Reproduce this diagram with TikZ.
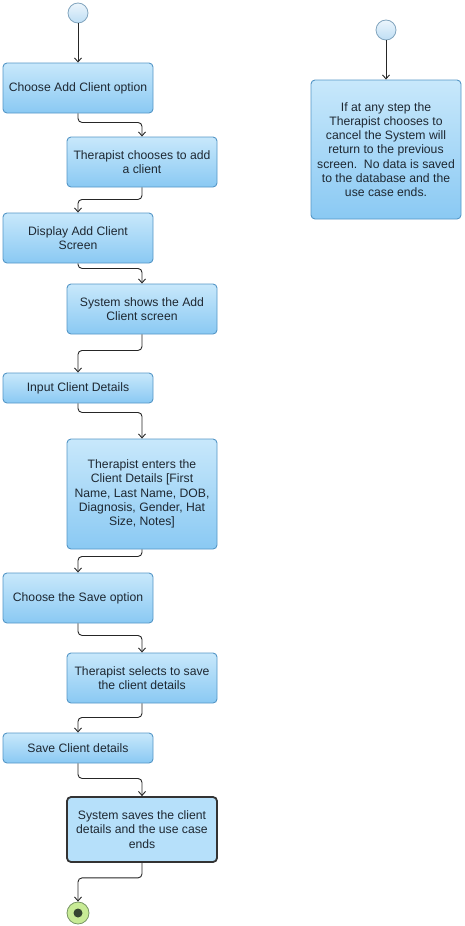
\documentclass[tikz,border=0pt]{standalone}
\usepackage{fontspec}
\setmainfont{Liberation Sans}
\usetikzlibrary{arrows.meta,calc}
\definecolor{acttop}{RGB}{200,232,251}
\definecolor{actbot}{RGB}{138,201,243}
\definecolor{actline}{RGB}{84,150,198}
\definecolor{acttext}{RGB}{30,40,50}
\definecolor{lastfill}{RGB}{182,224,250}
\definecolor{dottop}{RGB}{236,245,252}
\definecolor{dotbot}{RGB}{190,222,244}
\definecolor{dotline}{RGB}{130,165,190}
\definecolor{endfill}{RGB}{200,235,150}
\definecolor{endline}{RGB}{120,150,100}
\definecolor{endcore}{RGB}{55,70,50}

\begin{document}
\begin{tikzpicture}[x=1pt,y=-1pt,font=\fontsize{12.2}{14.2}\selectfont,
    act/.style={draw=actline,line width=.9pt,rounded corners=4pt,top color=acttop,bottom color=actbot,
      text=acttext,align=center,minimum width=150pt,minimum height=50pt,inner sep=2pt},
    actlast/.style={act,draw=black!80,line width=1.8pt,fill=lastfill,top color=lastfill,bottom color=lastfill},
    startdot/.style={circle,draw=dotline,line width=.8pt,top color=dottop,bottom color=dotbot,minimum size=20pt,inner sep=0pt},
    enddot/.style={circle,draw=endline,line width=.8pt,fill=endfill,minimum size=22pt,inner sep=0pt},
    flow/.style={draw=black!85,line width=.9pt,rounded corners=4pt,-{Straight Barb[length=4pt,width=7pt]}}]
  \useasboundingbox (0,0) rectangle (464,926);
  % left column
  \node[startdot] (start) at (78,13) {};
  \node[act] (choose) at (78,88) {Choose Add Client option};
  \node[act] (wantadd) at (142,162) {Therapist chooses to add\\a client};
  \node[act] (display) at (78,238) {Display Add Client\\Screen};
  \node[act] (shows) at (142,309) {System shows the Add\\Client screen};
  \node[act,minimum height=30pt] (input) at (78,388) {Input Client Details};
  \node[act,minimum height=110pt] (enters) at (142,494)
    {Therapist enters the\\Client Details [First\\Name, Last Name, DOB,\\Diagnosis, Gender, Hat\\Size, Notes]};
  \node[act] (savopt) at (78,598) {Choose the Save option};
  \node[act] (selects) at (142,678) {Therapist selects to save\\the client details};
  \node[act,minimum height=30pt] (savedet) at (78,748) {Save Client details};
  \node[actlast,minimum height=65pt] (saved) at (142,829.5) {System saves the client\\details and the use case\\ends};
  \node[enddot] (stop) at (78,913) {};
  \fill[endcore] (stop) circle (4.5pt);
  % right column
  \node[startdot] (cstart) at (386,30) {};
  \node[act,minimum height=139pt] (cancel) at (386,149.5)
    {If at any step the\\Therapist chooses to\\cancel the System will\\return to the previous\\screen.\ \ No data is saved\\to the database and the\\use case ends.};
  % connectors
  \draw[flow] (start) -- (choose);
  \draw[flow] (cstart) -- (cancel);
  \foreach \a/\b/\d in {choose/wantadd/9,wantadd/display/12,display/shows/5,shows/input/16,
      input/enters/9,enters/savopt/7,savopt/selects/12,selects/savedet/14,savedet/saved/15,saved/stop/15}
    \draw[flow] (\a.south) -- ++(0,\d) -| (\b.north);
\end{tikzpicture}
\end{document}
